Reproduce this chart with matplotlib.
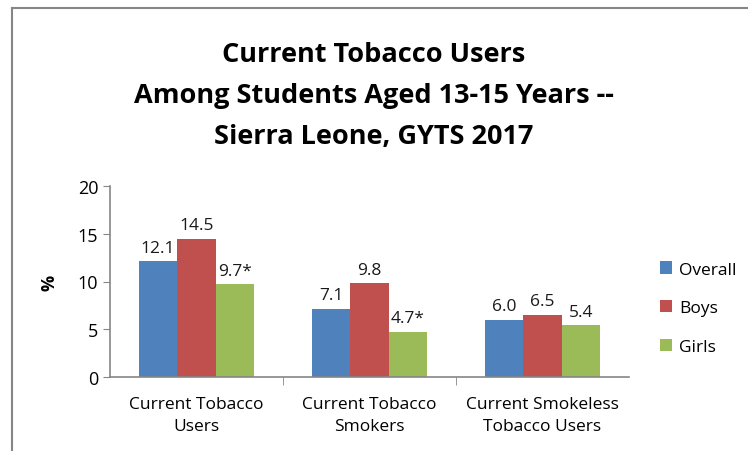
import numpy as np
import matplotlib.pyplot as plt
from matplotlib.lines import Line2D

categories = ["Current Tobacco\nUsers", "Current Tobacco\nSmokers", "Current Smokeless\nTobacco Users"]
overall = [12.1, 7.1, 6.0]
boys = [14.5, 9.8, 6.5]
girls = [9.7, 4.7, 5.4]
overall_labels = ["12.1", "7.1", "6.0"]
boys_labels = ["14.5", "9.8", "6.5"]
girls_labels = ["9.7*", "4.7*", "5.4"]

plt.rcParams['font.family'] = ['Open Sans', 'DejaVu Sans']

fig = plt.figure(figsize=(7.48, 4.52), dpi=100)
ax = fig.add_axes([0.147, 0.164, 0.694, 0.422])

# chart border (only top and left edges visible in the source image)
fig.add_artist(Line2D([0.0154, 1.0], [0.981, 0.981], color='#868686', lw=1.5))
fig.add_artist(Line2D([0.0154, 0.0154], [0.0, 0.981], color='#868686', lw=1.5))

x = np.arange(len(categories))
w = 0.222
series = [(overall, overall_labels, "#4f81bd", "Overall"),
          (boys, boys_labels, "#c0504d", "Boys"),
          (girls, girls_labels, "#9bbb59", "Girls")]
for i, (vals, labs, col, name) in enumerate(series):
    pos = x + (i - 1) * w
    ax.bar(pos, vals, w, color=col, label=name)
    for p, v, t in zip(pos, vals, labs):
        ax.text(p, v + 0.6, t, ha='center', va='bottom', fontsize=12.5, color='#1a1a1a')

ax.set_xlim(-0.5, 2.5)
ax.set_ylim(0, 20)
ax.set_yticks([0, 5, 10, 15, 20])
ax.set_xticks(x)
ax.set_xticklabels(categories, fontsize=12.5, linespacing=1.45)
ax.set_xticks([0.5, 1.5], minor=True)
ax.tick_params(axis='x', which='major', length=0, pad=14)
ax.tick_params(axis='x', which='minor', length=6, color='#868686')
ax.tick_params(axis='y', labelsize=13, color='#868686', length=5)
for s in ['top', 'right']:
    ax.spines[s].set_visible(False)
for s in ['left', 'bottom']:
    ax.spines[s].set_color('#868686')
    ax.spines[s].set_linewidth(1.2)
ax.set_ylabel('%', fontsize=13, fontweight='bold', labelpad=14)

ax.legend(loc='center left', bbox_to_anchor=(1.03, 0.36), frameon=False,
          fontsize=12.5, handlelength=0.7, handleheight=0.7, labelspacing=1.3,
          handletextpad=0.4)

fig.text(0.5, 0.787, "Current Tobacco Users\nAmong Students Aged 13-15 Years --\nSierra Leone, GYTS 2017",
         ha='center', va='center', fontsize=19.5, fontweight='bold', linespacing=1.75)

fig.savefig('out.png', dpi=100)
